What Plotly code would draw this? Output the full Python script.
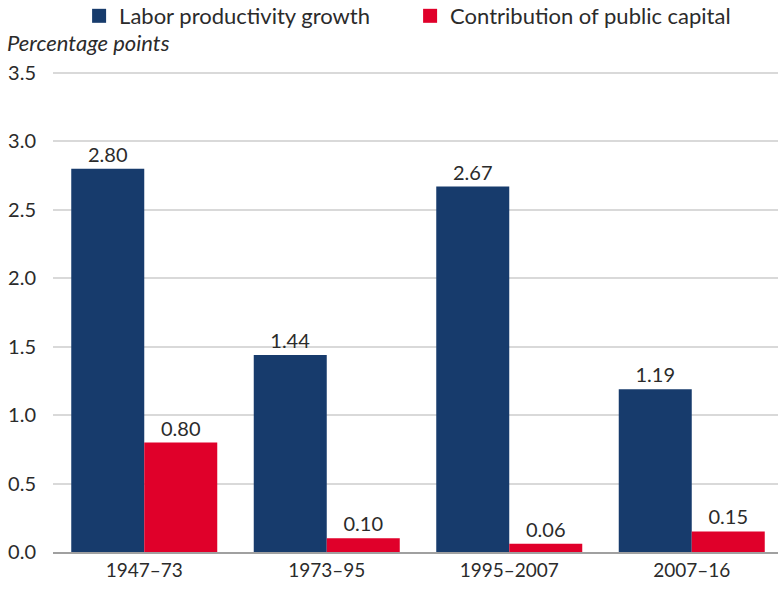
import plotly.graph_objects as go

periods = ["1947–73", "1973–95", "1995–2007", "2007–16"]
labor_growth = [2.80, 1.44, 2.67, 1.19]
public_capital = [0.80, 0.10, 0.06, 0.15]
y_ticks = [0.0, 0.5, 1.0, 1.5, 2.0, 2.5, 3.0, 3.5]

BLUE = "#173B6C"
RED = "#E0002A"
TEXT = "#2B2B2B"
FONT = "Lato"

fig = go.Figure()
for name, vals, color in [("Labor productivity growth", labor_growth, BLUE),
                          ("Contribution of public capital", public_capital, RED)]:
    fig.add_trace(go.Bar(
        x=periods, y=vals, name=name, showlegend=False,
        marker=dict(color=color, line=dict(width=0)),
        text=[f"{v:.2f}" for v in vals], textposition="outside",
        textfont=dict(size=20, color=TEXT, family=FONT), cliponaxis=False,
    ))
    # square swatch for the legend
    fig.add_trace(go.Scatter(
        x=[None], y=[None], mode="markers", name=name,
        marker=dict(symbol="square", size=14, color=color),
    ))

fig.update_layout(
    width=778, height=589,
    margin=dict(l=53, r=0, t=70, b=37, autoexpand=False),
    paper_bgcolor="white", plot_bgcolor="white",
    font=dict(family=FONT, color=TEXT, size=19),
    barmode="group", bargap=0.2, bargroupgap=0,
    showlegend=True,
    legend=dict(orientation="h", x=0.036, y=1.112, xanchor="left", yanchor="middle",
                font=dict(size=22, color=TEXT, family=FONT), itemwidth=30,
                entrywidth=286, entrywidthmode="pixels",
                tracegroupgap=0, bgcolor="rgba(0,0,0,0)"),
    xaxis=dict(range=[-0.5, 3.4726], showgrid=False, showline=True,
               linecolor="#A0A0A0", linewidth=2, ticks="",
               tickfont=dict(size=19, color=TEXT, family=FONT)),
    yaxis=dict(range=[0, 3.522], tickvals=y_ticks,
               ticktext=[f"{v:.1f}" for v in y_ticks],
               showgrid=True, gridcolor="#D9D9D9", gridwidth=2,
               zeroline=False, showline=False, ticks="",
               ticklabelstandoff=16,
               tickfont=dict(size=20, color=TEXT, family=FONT)),
    annotations=[dict(text="<i>Percentage points</i>", xref="paper", yref="paper",
                      x=-0.066, y=1.058, xanchor="left", yanchor="middle",
                      showarrow=False, font=dict(size=22, color=TEXT, family=FONT))],
)

fig.write_html("out.html")
